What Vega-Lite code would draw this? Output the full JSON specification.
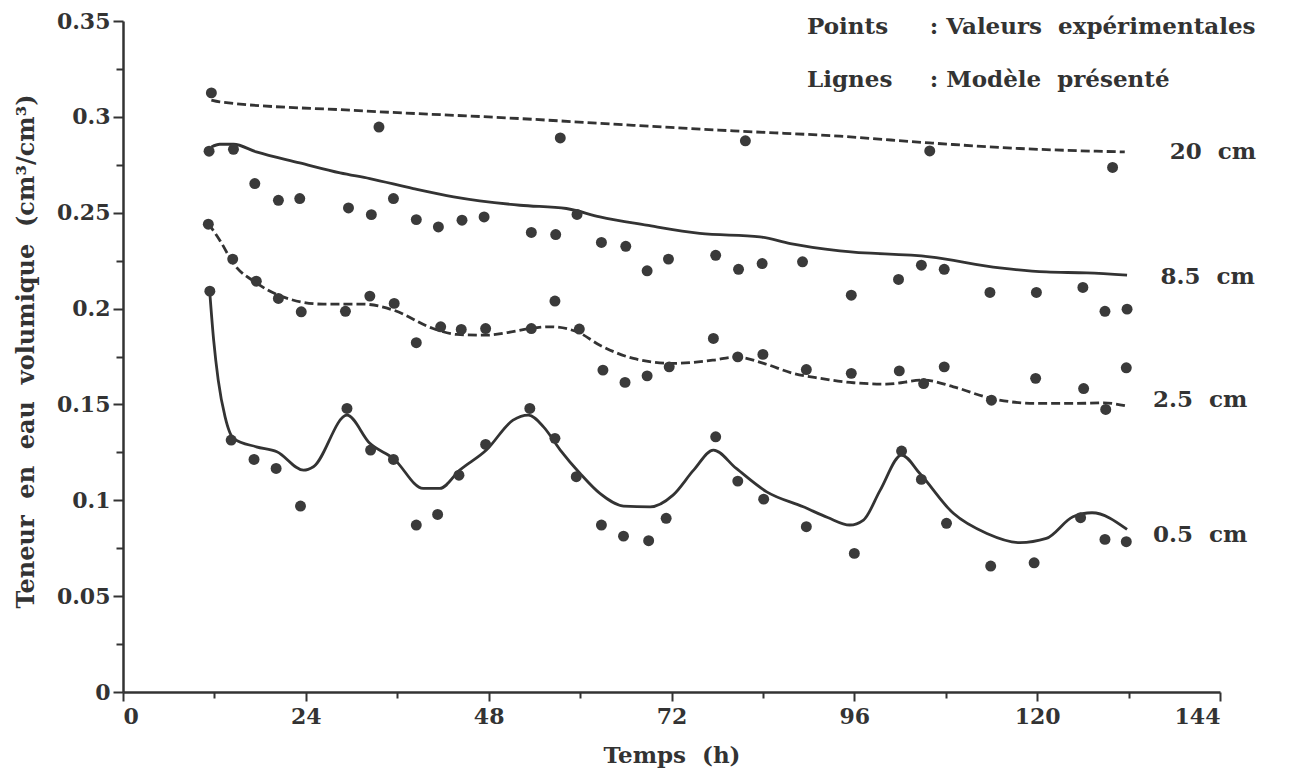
{
  "$schema": "https://vega.github.io/schema/vega-lite/v6.json",
  "autosize": {"type": "none"},
  "padding": {"left": 123, "top": 21, "right": 78, "bottom": 76},
  "width": 1097,
  "height": 671,
  "background": "white",
  "config": {
    "view": {"stroke": null},
    "font": "DejaVu Serif",
    "axis": {
      "domainColor": "#333333", "domainWidth": 2.5, "tickColor": "#333333", "tickWidth": 2,
      "labelFont": "DejaVu Serif", "labelFontWeight": "bold", "labelColor": "#333333", "labelFontSize": 22,
      "titleFont": "DejaVu Serif", "titleFontWeight": "bold", "titleColor": "#333333", "titleFontSize": 23,
      "grid": false
    }
  },
  "datasets": {
    "points": [
      {"depth": "20 cm", "h": 11.6, "theta": 0.3125}, {"depth": "20 cm", "h": 33.6, "theta": 0.2947}, {"depth": "20 cm", "h": 57.4, "theta": 0.2890}, {"depth": "20 cm", "h": 81.7, "theta": 0.2875}, {"depth": "20 cm", "h": 105.9, "theta": 0.2822}, {"depth": "20 cm", "h": 129.9, "theta": 0.2736},
      {"depth": "8.5 cm", "h": 11.3, "theta": 0.2821}, {"depth": "8.5 cm", "h": 14.5, "theta": 0.2831}, {"depth": "8.5 cm", "h": 17.3, "theta": 0.2652}, {"depth": "8.5 cm", "h": 20.4, "theta": 0.2565}, {"depth": "8.5 cm", "h": 23.2, "theta": 0.2574}, {"depth": "8.5 cm", "h": 29.6, "theta": 0.2525}, {"depth": "8.5 cm", "h": 32.6, "theta": 0.2490}, {"depth": "8.5 cm", "h": 35.5, "theta": 0.2574}, {"depth": "8.5 cm", "h": 38.5, "theta": 0.2464}, {"depth": "8.5 cm", "h": 41.4, "theta": 0.2426}, {"depth": "8.5 cm", "h": 44.5, "theta": 0.2461}, {"depth": "8.5 cm", "h": 47.4, "theta": 0.2478}, {"depth": "8.5 cm", "h": 53.6, "theta": 0.2397}, {"depth": "8.5 cm", "h": 56.8, "theta": 0.2386}, {"depth": "8.5 cm", "h": 59.6, "theta": 0.2491}, {"depth": "8.5 cm", "h": 62.8, "theta": 0.2345}, {"depth": "8.5 cm", "h": 66.0, "theta": 0.2325}, {"depth": "8.5 cm", "h": 68.8, "theta": 0.2197}, {"depth": "8.5 cm", "h": 71.6, "theta": 0.2258}, {"depth": "8.5 cm", "h": 77.8, "theta": 0.2278}, {"depth": "8.5 cm", "h": 80.8, "theta": 0.2205}, {"depth": "8.5 cm", "h": 83.9, "theta": 0.2235}, {"depth": "8.5 cm", "h": 89.2, "theta": 0.2244}, {"depth": "8.5 cm", "h": 95.6, "theta": 0.2070}, {"depth": "8.5 cm", "h": 101.8, "theta": 0.2152}, {"depth": "8.5 cm", "h": 104.8, "theta": 0.2226}, {"depth": "8.5 cm", "h": 107.8, "theta": 0.2205}, {"depth": "8.5 cm", "h": 113.8, "theta": 0.2084}, {"depth": "8.5 cm", "h": 119.9, "theta": 0.2084}, {"depth": "8.5 cm", "h": 126.0, "theta": 0.2110}, {"depth": "8.5 cm", "h": 128.9, "theta": 0.1986}, {"depth": "8.5 cm", "h": 131.8, "theta": 0.1997},
      {"depth": "2.5 cm", "h": 11.2, "theta": 0.2440}, {"depth": "2.5 cm", "h": 14.4, "theta": 0.2258}, {"depth": "2.5 cm", "h": 17.5, "theta": 0.2143}, {"depth": "2.5 cm", "h": 20.4, "theta": 0.2053}, {"depth": "2.5 cm", "h": 23.4, "theta": 0.1983}, {"depth": "2.5 cm", "h": 29.2, "theta": 0.1986}, {"depth": "2.5 cm", "h": 32.4, "theta": 0.2065}, {"depth": "2.5 cm", "h": 35.6, "theta": 0.2027}, {"depth": "2.5 cm", "h": 38.5, "theta": 0.1822}, {"depth": "2.5 cm", "h": 41.7, "theta": 0.1905}, {"depth": "2.5 cm", "h": 44.4, "theta": 0.1891}, {"depth": "2.5 cm", "h": 47.6, "theta": 0.1896}, {"depth": "2.5 cm", "h": 53.6, "theta": 0.1896}, {"depth": "2.5 cm", "h": 56.7, "theta": 0.2039}, {"depth": "2.5 cm", "h": 59.9, "theta": 0.1893}, {"depth": "2.5 cm", "h": 63.0, "theta": 0.1679}, {"depth": "2.5 cm", "h": 65.9, "theta": 0.1615}, {"depth": "2.5 cm", "h": 68.8, "theta": 0.1649}, {"depth": "2.5 cm", "h": 71.7, "theta": 0.1696}, {"depth": "2.5 cm", "h": 77.5, "theta": 0.1844}, {"depth": "2.5 cm", "h": 80.7, "theta": 0.1748}, {"depth": "2.5 cm", "h": 84.0, "theta": 0.1761}, {"depth": "2.5 cm", "h": 89.7, "theta": 0.1682}, {"depth": "2.5 cm", "h": 95.6, "theta": 0.1662}, {"depth": "2.5 cm", "h": 101.9, "theta": 0.1675}, {"depth": "2.5 cm", "h": 105.1, "theta": 0.1609}, {"depth": "2.5 cm", "h": 107.8, "theta": 0.1696}, {"depth": "2.5 cm", "h": 114.0, "theta": 0.1522}, {"depth": "2.5 cm", "h": 119.8, "theta": 0.1636}, {"depth": "2.5 cm", "h": 126.1, "theta": 0.1583}, {"depth": "2.5 cm", "h": 129.0, "theta": 0.1474}, {"depth": "2.5 cm", "h": 131.7, "theta": 0.1691},
      {"depth": "0.5 cm", "h": 11.4, "theta": 0.2091}, {"depth": "0.5 cm", "h": 14.2, "theta": 0.1314}, {"depth": "0.5 cm", "h": 17.2, "theta": 0.1213}, {"depth": "0.5 cm", "h": 20.1, "theta": 0.1166}, {"depth": "0.5 cm", "h": 23.3, "theta": 0.0970}, {"depth": "0.5 cm", "h": 29.4, "theta": 0.1479}, {"depth": "0.5 cm", "h": 32.5, "theta": 0.1262}, {"depth": "0.5 cm", "h": 35.5, "theta": 0.1213}, {"depth": "0.5 cm", "h": 38.5, "theta": 0.0871}, {"depth": "0.5 cm", "h": 41.3, "theta": 0.0926}, {"depth": "0.5 cm", "h": 44.1, "theta": 0.1131}, {"depth": "0.5 cm", "h": 47.6, "theta": 0.1291}, {"depth": "0.5 cm", "h": 53.4, "theta": 0.1479}, {"depth": "0.5 cm", "h": 56.7, "theta": 0.1323}, {"depth": "0.5 cm", "h": 59.5, "theta": 0.1123}, {"depth": "0.5 cm", "h": 62.8, "theta": 0.0871}, {"depth": "0.5 cm", "h": 65.7, "theta": 0.0813}, {"depth": "0.5 cm", "h": 69.0, "theta": 0.0789}, {"depth": "0.5 cm", "h": 71.3, "theta": 0.0906}, {"depth": "0.5 cm", "h": 77.8, "theta": 0.1331}, {"depth": "0.5 cm", "h": 80.7, "theta": 0.1100}, {"depth": "0.5 cm", "h": 84.1, "theta": 0.1006}, {"depth": "0.5 cm", "h": 89.7, "theta": 0.0862}, {"depth": "0.5 cm", "h": 96.0, "theta": 0.0723}, {"depth": "0.5 cm", "h": 102.2, "theta": 0.1257}, {"depth": "0.5 cm", "h": 104.8, "theta": 0.1109}, {"depth": "0.5 cm", "h": 108.1, "theta": 0.0880}, {"depth": "0.5 cm", "h": 113.9, "theta": 0.0657}, {"depth": "0.5 cm", "h": 119.6, "theta": 0.0674}, {"depth": "0.5 cm", "h": 125.7, "theta": 0.0909}, {"depth": "0.5 cm", "h": 128.9, "theta": 0.0796}, {"depth": "0.5 cm", "h": 131.7, "theta": 0.0784}
    ],
    "model": [
      {"depth": "20 cm", "style": "dashed", "h": 11.6, "theta": 0.3087}, {"depth": "20 cm", "style": "dashed", "h": 12.7, "theta": 0.3078}, {"depth": "20 cm", "style": "dashed", "h": 30.2, "theta": 0.3034}, {"depth": "20 cm", "style": "dashed", "h": 52.1, "theta": 0.2991}, {"depth": "20 cm", "style": "dashed", "h": 67.0, "theta": 0.2956}, {"depth": "20 cm", "style": "dashed", "h": 80.1, "theta": 0.2927}, {"depth": "20 cm", "style": "dashed", "h": 94.1, "theta": 0.2899}, {"depth": "20 cm", "style": "dashed", "h": 105.9, "theta": 0.2864}, {"depth": "20 cm", "style": "dashed", "h": 117.7, "theta": 0.2835}, {"depth": "20 cm", "style": "dashed", "h": 131.5, "theta": 0.2817},
      {"depth": "8.5 cm", "style": "solid", "h": 11.6, "theta": 0.2843}, {"depth": "8.5 cm", "style": "solid", "h": 12.7, "theta": 0.2857}, {"depth": "8.5 cm", "style": "solid", "h": 14.5, "theta": 0.2857}, {"depth": "8.5 cm", "style": "solid", "h": 17.5, "theta": 0.2817}, {"depth": "8.5 cm", "style": "solid", "h": 23.2, "theta": 0.2760}, {"depth": "8.5 cm", "style": "solid", "h": 28.5, "theta": 0.2708}, {"depth": "8.5 cm", "style": "solid", "h": 32.4, "theta": 0.2678}, {"depth": "8.5 cm", "style": "solid", "h": 38.1, "theta": 0.2626}, {"depth": "8.5 cm", "style": "solid", "h": 43.4, "theta": 0.2583}, {"depth": "8.5 cm", "style": "solid", "h": 52.1, "theta": 0.2539}, {"depth": "8.5 cm", "style": "solid", "h": 58.2, "theta": 0.2522}, {"depth": "8.5 cm", "style": "solid", "h": 62.6, "theta": 0.2478}, {"depth": "8.5 cm", "style": "solid", "h": 68.7, "theta": 0.2435}, {"depth": "8.5 cm", "style": "solid", "h": 75.7, "theta": 0.2392}, {"depth": "8.5 cm", "style": "solid", "h": 83.6, "theta": 0.2374}, {"depth": "8.5 cm", "style": "solid", "h": 87.6, "theta": 0.2339}, {"depth": "8.5 cm", "style": "solid", "h": 94.1, "theta": 0.2301}, {"depth": "8.5 cm", "style": "solid", "h": 105.9, "theta": 0.2270}, {"depth": "8.5 cm", "style": "solid", "h": 115.1, "theta": 0.2212}, {"depth": "8.5 cm", "style": "solid", "h": 121.2, "theta": 0.2191}, {"depth": "8.5 cm", "style": "solid", "h": 126.5, "theta": 0.2186}, {"depth": "8.5 cm", "style": "solid", "h": 131.8, "theta": 0.2174},
      {"depth": "2.5 cm", "style": "dashed", "h": 11.2, "theta": 0.2444}, {"depth": "2.5 cm", "style": "dashed", "h": 12.7, "theta": 0.2357}, {"depth": "2.5 cm", "style": "dashed", "h": 14.5, "theta": 0.2235}, {"depth": "2.5 cm", "style": "dashed", "h": 17.5, "theta": 0.2134}, {"depth": "2.5 cm", "style": "dashed", "h": 20.4, "theta": 0.2070}, {"depth": "2.5 cm", "style": "dashed", "h": 26.3, "theta": 0.2023}, {"depth": "2.5 cm", "style": "dashed", "h": 31.5, "theta": 0.2023}, {"depth": "2.5 cm", "style": "dashed", "h": 35.5, "theta": 0.1992}, {"depth": "2.5 cm", "style": "dashed", "h": 40.7, "theta": 0.1896}, {"depth": "2.5 cm", "style": "dashed", "h": 43.8, "theta": 0.1865}, {"depth": "2.5 cm", "style": "dashed", "h": 47.7, "theta": 0.1861}, {"depth": "2.5 cm", "style": "dashed", "h": 50.5, "theta": 0.1875}, {"depth": "2.5 cm", "style": "dashed", "h": 53.4, "theta": 0.1896}, {"depth": "2.5 cm", "style": "dashed", "h": 56.1, "theta": 0.1905}, {"depth": "2.5 cm", "style": "dashed", "h": 59.6, "theta": 0.1879}, {"depth": "2.5 cm", "style": "dashed", "h": 62.6, "theta": 0.1809}, {"depth": "2.5 cm", "style": "dashed", "h": 67.0, "theta": 0.1740}, {"depth": "2.5 cm", "style": "dashed", "h": 72.2, "theta": 0.1714}, {"depth": "2.5 cm", "style": "dashed", "h": 77.5, "theta": 0.1731}, {"depth": "2.5 cm", "style": "dashed", "h": 80.5, "theta": 0.1748}, {"depth": "2.5 cm", "style": "dashed", "h": 84.1, "theta": 0.1714}, {"depth": "2.5 cm", "style": "dashed", "h": 88.0, "theta": 0.1662}, {"depth": "2.5 cm", "style": "dashed", "h": 91.5, "theta": 0.1636}, {"depth": "2.5 cm", "style": "dashed", "h": 95.9, "theta": 0.1613}, {"depth": "2.5 cm", "style": "dashed", "h": 100.2, "theta": 0.1606}, {"depth": "2.5 cm", "style": "dashed", "h": 105.1, "theta": 0.1627}, {"depth": "2.5 cm", "style": "dashed", "h": 109.0, "theta": 0.1592}, {"depth": "2.5 cm", "style": "dashed", "h": 114.0, "theta": 0.1531}, {"depth": "2.5 cm", "style": "dashed", "h": 119.9, "theta": 0.1505}, {"depth": "2.5 cm", "style": "dashed", "h": 124.7, "theta": 0.1505}, {"depth": "2.5 cm", "style": "dashed", "h": 128.7, "theta": 0.1508}, {"depth": "2.5 cm", "style": "dashed", "h": 131.8, "theta": 0.1491},
      {"depth": "0.5 cm", "style": "solid", "h": 11.4, "theta": 0.2079}, {"depth": "0.5 cm", "style": "solid", "h": 11.9, "theta": 0.1835}, {"depth": "0.5 cm", "style": "solid", "h": 12.5, "theta": 0.1627}, {"depth": "0.5 cm", "style": "solid", "h": 13.4, "theta": 0.1435}, {"depth": "0.5 cm", "style": "solid", "h": 14.5, "theta": 0.1323}, {"depth": "0.5 cm", "style": "solid", "h": 17.5, "theta": 0.1279}, {"depth": "0.5 cm", "style": "solid", "h": 20.2, "theta": 0.1253}, {"depth": "0.5 cm", "style": "solid", "h": 23.7, "theta": 0.1157}, {"depth": "0.5 cm", "style": "solid", "h": 25.0, "theta": 0.1175}, {"depth": "0.5 cm", "style": "solid", "h": 29.4, "theta": 0.1444}, {"depth": "0.5 cm", "style": "solid", "h": 32.4, "theta": 0.1297}, {"depth": "0.5 cm", "style": "solid", "h": 35.5, "theta": 0.1218}, {"depth": "0.5 cm", "style": "solid", "h": 39.4, "theta": 0.1062}, {"depth": "0.5 cm", "style": "solid", "h": 41.6, "theta": 0.1062}, {"depth": "0.5 cm", "style": "solid", "h": 44.2, "theta": 0.1157}, {"depth": "0.5 cm", "style": "solid", "h": 47.7, "theta": 0.1262}, {"depth": "0.5 cm", "style": "solid", "h": 51.2, "theta": 0.1418}, {"depth": "0.5 cm", "style": "solid", "h": 53.2, "theta": 0.1444}, {"depth": "0.5 cm", "style": "solid", "h": 55.2, "theta": 0.1383}, {"depth": "0.5 cm", "style": "solid", "h": 57.4, "theta": 0.1262}, {"depth": "0.5 cm", "style": "solid", "h": 60.0, "theta": 0.1140}, {"depth": "0.5 cm", "style": "solid", "h": 62.6, "theta": 0.1036}, {"depth": "0.5 cm", "style": "solid", "h": 65.7, "theta": 0.0970}, {"depth": "0.5 cm", "style": "solid", "h": 69.2, "theta": 0.0966}, {"depth": "0.5 cm", "style": "solid", "h": 72.2, "theta": 0.1027}, {"depth": "0.5 cm", "style": "solid", "h": 74.9, "theta": 0.1157}, {"depth": "0.5 cm", "style": "solid", "h": 77.5, "theta": 0.1262}, {"depth": "0.5 cm", "style": "solid", "h": 80.5, "theta": 0.1166}, {"depth": "0.5 cm", "style": "solid", "h": 84.5, "theta": 0.1044}, {"depth": "0.5 cm", "style": "solid", "h": 89.3, "theta": 0.0966}, {"depth": "0.5 cm", "style": "solid", "h": 92.5, "theta": 0.0910}, {"depth": "0.5 cm", "style": "solid", "h": 95.4, "theta": 0.0871}, {"depth": "0.5 cm", "style": "solid", "h": 97.2, "theta": 0.0897}, {"depth": "0.5 cm", "style": "solid", "h": 99.4, "theta": 0.1053}, {"depth": "0.5 cm", "style": "solid", "h": 102.2, "theta": 0.1236}, {"depth": "0.5 cm", "style": "solid", "h": 104.6, "theta": 0.1140}, {"depth": "0.5 cm", "style": "solid", "h": 109.0, "theta": 0.0932}, {"depth": "0.5 cm", "style": "solid", "h": 113.4, "theta": 0.0827}, {"depth": "0.5 cm", "style": "solid", "h": 117.7, "theta": 0.0779}, {"depth": "0.5 cm", "style": "solid", "h": 121.2, "theta": 0.0801}, {"depth": "0.5 cm", "style": "solid", "h": 124.7, "theta": 0.0914}, {"depth": "0.5 cm", "style": "solid", "h": 127.2, "theta": 0.0935}, {"depth": "0.5 cm", "style": "solid", "h": 131.8, "theta": 0.0848}
    ],
    "labels": [
      {"text": "20\u00a0\u00a0cm", "h": 137.4, "theta": 0.2817},
      {"text": "8.5\u00a0\u00a0cm", "h": 136.2, "theta": 0.2165},
      {"text": "2.5\u00a0\u00a0cm", "h": 135.2, "theta": 0.1522},
      {"text": "0.5\u00a0\u00a0cm", "h": 135.2, "theta": 0.0819}
    ],
    "notes": [
      {"text": "Points", "h": 89.8, "theta": 0.3467},
      {"text": ":\u00a0Valeurs\u00a0\u00a0expérimentales", "h": 105.9, "theta": 0.3467},
      {"text": "Lignes", "h": 89.8, "theta": 0.3191},
      {"text": ":\u00a0Modèle\u00a0\u00a0présenté", "h": 105.9, "theta": 0.3191}
    ]
  },
  "layer": [
    {
      "data": {"name": "model"},
      "transform": [{"filter": "datum.style === 'solid'"}],
      "mark": {"type": "line", "interpolate": "monotone", "color": "#333333", "strokeWidth": 2.8},
      "encoding": {
        "x": {"field": "h", "type": "quantitative", "scale": {"domain": [0, 144], "nice": false},
          "axis": {
            "title": "Temps\u00a0\u00a0(h)",
            "values": [0, 12, 24, 36, 48, 60, 72, 84, 96, 108, 120, 132, 144],
            "labelExpr": "datum.value % 24 === 0 ? datum.label : ''",
            "tickSize": {"condition": {"test": "datum.value % 24 === 0", "value": 9}, "value": 6},
            "labelPadding": 5,
            "titleY": 63, "titleBaseline": "middle"
          }},
        "y": {"field": "theta", "type": "quantitative", "scale": {"domain": [0, 0.35], "nice": false},
          "axis": {
            "title": "Teneur\u00a0\u00a0en\u00a0\u00a0eau\u00a0\u00a0volumique\u00a0\u00a0(cm³/cm³)",
            "values": [0, 0.025, 0.05, 0.075, 0.1, 0.125, 0.15, 0.175, 0.2, 0.225, 0.25, 0.275, 0.3, 0.325, 0.35],
            "labelExpr": "abs(datum.value*20 - round(datum.value*20)) < 0.001 ? format(datum.value, '~g') : ''",
            "tickSize": {"condition": {"test": "abs(datum.value*20 - round(datum.value*20)) < 0.001", "value": 10}, "value": 7},
            "labelPadding": 3,
            "titleX": -97, "titleY": 330, "titleAngle": -90, "titleAlign": "center", "titleBaseline": "middle", "titleFontSize": 24
          }},
        "detail": {"field": "depth", "type": "nominal"}
      }
    },
    {
      "data": {"name": "model"},
      "transform": [{"filter": "datum.style === 'dashed'"}],
      "mark": {"type": "line", "interpolate": "monotone", "color": "#333333", "strokeWidth": 2.8, "strokeDash": [9, 4]},
      "encoding": {
        "x": {"field": "h", "type": "quantitative"},
        "y": {"field": "theta", "type": "quantitative"},
        "detail": {"field": "depth", "type": "nominal"}
      }
    },
    {
      "data": {"name": "points"},
      "mark": {"type": "circle", "color": "#3a3a3a", "opacity": 1, "size": 120},
      "encoding": {
        "x": {"field": "h", "type": "quantitative"},
        "y": {"field": "theta", "type": "quantitative"}
      }
    },
    {
      "data": {"name": "labels"},
      "mark": {"type": "text", "align": "left", "baseline": "middle", "font": "DejaVu Serif", "fontWeight": "bold", "fontSize": 23, "color": "#333333"},
      "encoding": {
        "x": {"field": "h", "type": "quantitative"},
        "y": {"field": "theta", "type": "quantitative"},
        "text": {"field": "text"}
      }
    },
    {
      "data": {"name": "notes"},
      "mark": {"type": "text", "align": "left", "baseline": "middle", "font": "DejaVu Serif", "fontWeight": "bold", "fontSize": 23, "color": "#333333"},
      "encoding": {
        "x": {"field": "h", "type": "quantitative"},
        "y": {"field": "theta", "type": "quantitative"},
        "text": {"field": "text"}
      }
    }
  ]
}
